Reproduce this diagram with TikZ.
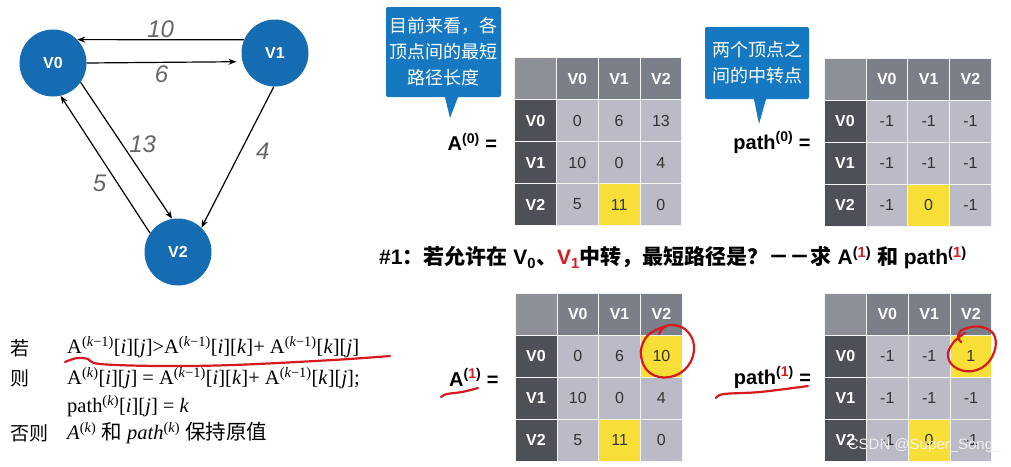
\documentclass[tikz,border=0pt]{standalone}
\usepackage{fontspec}
\setmainfont{Liberation Serif}
\setsansfont{Liberation Sans}
\newfontfamily\cjk{Noto Sans CJK SC}
\usepackage{xcolor}
\usepackage{tikz}
\usetikzlibrary{arrows.meta}
\usetikzlibrary{positioning}
\definecolor{azulno}{RGB}{22,108,178}
\definecolor{azulbalao}{RGB}{22,120,192}
\definecolor{cabeca}{RGB}{123,127,135}
\definecolor{canto}{RGB}{141,144,150}
\definecolor{lateral}{RGB}{77,80,87}
\definecolor{cz}{RGB}{187,186,199}
\definecolor{am}{RGB}{247,223,55}
\definecolor{tinta}{RGB}{214,26,30}
\newcommand{\zh}[1]{{\cjk #1}}
\newcommand{\sob}[1]{\textsuperscript{(#1)}}
\tikzset{
  vertice/.style={circle, fill=azulno, minimum size=67pt, inner sep=0pt, text=white, font=\sffamily\bfseries\fontsize{16}{16}\selectfont},
  seta/.style={-{Stealth[length=8pt,width=6pt]}, line width=1.2pt},
  peso/.style={font=\sffamily\itshape\fontsize{24}{24}\selectfont, text=black!60, inner sep=1pt},
  celula/.style={draw=white!92!gray, line width=0.8pt, minimum width=41.8pt, minimum height=42pt, inner sep=0pt, font=\sffamily\fontsize{16}{16}\selectfont, text=black!80},
  cabec/.style={celula, fill=cabeca, text=white, font=\sffamily\bfseries\fontsize{16}{16}\selectfont},
  balao/.style={fill=azulbalao, rounded corners=2pt, text=white, align=center, inner sep=0pt, font=\cjk\fontsize{18}{26}\selectfont},
  rotulo/.style={font=\sffamily\bfseries\fontsize{20}{20}\selectfont, inner sep=0pt},
  texto/.style={font=\fontsize{20.5}{20.5}\selectfont, inner sep=0pt, anchor=west},
  risco/.style={draw=tinta, line width=2.2pt, line cap=round, line join=round},
}
\newcommand{\matriz}[3]{%
  \begin{scope}[shift={#2}]
    \node[celula, fill=canto] (#1-c) at (0,0) {};
    \foreach \t [count=\c] in {V0,V1,V2} {
      \node[cabec] (#1-h\c) at (\c*41.8,0) {\t};
      \node[cabec, fill=lateral] (#1-l\c) at (0,\c*42) {\t};
    }
    \foreach \linha [count=\r] in {#3} {
      \foreach \v/\cor [count=\c] in \linha
        \node[celula, fill=\cor] (#1-\r\c) at (\c*41.8,\r*42) {\v};
    }
  \end{scope}}

\begin{document}
\begin{tikzpicture}[x=1pt, y=-1pt]
  \useasboundingbox[fill=white] (0,0) rectangle (1011,466);

  % grafo
  \node[vertice] (v0) at (53,63) {V0};
  \node[vertice] (v1) at (275,53) {V1};
  \node[vertice] (v2) at (178,252) {V2};
  \draw[seta] (v1.157) -- node[peso, above] (p10) {10} (v0.44);
  \draw[seta] (v0.east) -- node[peso, below=2pt] (p6) {6} ([xshift=-6pt]v1.195);
  \draw[seta] (v0.-35) -- node[peso, pos=0.45, right=6pt] (p13) {13} (v2.100);
  \draw[seta] (v2.146) -- node[peso, pos=0.36, left=10pt] (p5) {5} (v0.-77);
  \draw[seta] (v1.-92) -- node[peso, pos=0.46, right=14pt] (p4) {4} (v2.46);

  % matrizes
  \matriz{a0}{(535.5,78.5)}{{0/cz,6/cz,13/cz},{10/cz,0/cz,4/cz},{5/cz,11/am,0/cz}}
  \matriz{p0}{(845,79)}{{-1/cz,-1/cz,-1/cz},{-1/cz,-1/cz,-1/cz},{-1/cz,0/am,-1/cz}}
  \matriz{a1}{(536,314)}{{0/cz,6/cz,10/am},{10/cz,0/cz,4/cz},{5/cz,11/am,0/cz}}
  \matriz{p1}{(845.5,314)}{{-1/cz,-1/cz,1/am},{-1/cz,-1/cz,-1/cz},{-1/cz,0/am,-1/cz}}

  \node[rotulo, left=17pt of a0-l1.south west] (la0) {A\sob{0} =};
  \node[rotulo, left=13pt of p0-l1.south west] (lp0) {path\sob{0} =};
  \node[rotulo, left=16pt of a1-l1.south west] (la1) {A\sob{\textcolor{tinta}{1}} =};
  \node[rotulo, left=13pt of p1-l1.south west] (lp1) {path\sob{\textcolor{tinta}{1}} =};

  % baloes
  \node[balao, minimum width=115pt, minimum height=90pt] (b1) at (443.5,52) {目前来看，各\\顶点间的最短\\路径长度};
  \coordinate (t1) at (450,118);
  \fill[azulbalao] ([xshift=1.5pt]b1.south) -- ([xshift=14.5pt]b1.south) -- (t1) -- cycle;
  \node[balao, minimum width=104pt, minimum height=72pt] (b2) at (757,63) {两个顶点之\\间的中转点};
  \coordinate (t2) at (759,124);
  \fill[azulbalao] ([xshift=-3pt]b2.south) -- ([xshift=9pt]b2.south) -- (t2) -- cycle;

  \node[anchor=west, inner sep=0pt, font=\sffamily\bfseries\fontsize{21}{21}\selectfont] (titulo) at (379,258)
    {\#1\zh{：若允许在} V\textsubscript{0}\zh{、}\textcolor{tinta}{V\textsubscript{1}}\zh{中转，最短路径是？－－求} A\sob{\textcolor{tinta}{1}} \zh{和} path\sob{\textcolor{tinta}{1}}};

  % regra
  \node[texto, font=\cjk\fontsize{19}{19}\selectfont] (se) at (10,348) {若};
  \node[texto] (cond) at (67,347) {A\sob{\textit{k}−1}[\textit{i}][\textit{j}]>A\sob{\textit{k}−1}[\textit{i}][\textit{k}]+ A\sob{\textit{k}−1}[\textit{k}][\textit{j}]};
  \node[texto, font=\cjk\fontsize{19}{19}\selectfont] (entao) at (10,378) {则};
  \node[texto] (atrib) at (67,378) {A\sob{\textit{k}}[\textit{i}][\textit{j}] = A\sob{\textit{k}−1}[\textit{i}][\textit{k}]+ A\sob{\textit{k}−1}[\textit{k}][\textit{j}];};
  \node[texto] (atrib2) at (67,406) {path\sob{\textit{k}}[\textit{i}][\textit{j}] = \textit{k}};
  \node[texto, font=\cjk\fontsize{19}{19}\selectfont] (senao) at (10,433) {否则};
  \node[texto] (mantem) at (67,433) {\textit{A}\sob{\textit{k}} \zh{和} \textit{path}\sob{\textit{k}} \zh{保持原值}};

  % marcas a mao
  \draw[risco] plot[smooth, tension=0.6] coordinates {(65,362) (77,358) (88,359) (100,364) (160,366) (233,365) (333,360) (390,356)};
  \draw[risco] plot[smooth, tension=0.7] coordinates {(659,334) (663,328) (672,325) (686,330) (694,346) (688,366) (670,377) (650,373) (641,356) (645,339) (656,330) (667,326)};
  \draw[risco] plot[smooth, tension=0.7] coordinates {(961,342) (958,336) (964,329) (982,327) (995,337) (992,357) (977,370) (958,369) (948,357) (953,343) (965,333)};
  \draw[risco] plot[smooth, tension=0.6] coordinates {(441,397) (447,394) (462,392) (478,388)};
  \draw[risco] plot[smooth, tension=0.6] coordinates {(716,398) (724,394) (760,392) (808,386)};

  \node[anchor=east, font=\sffamily\fontsize{15}{15}\selectfont, text=white!94!black] (marca) at (1005,446) {CSDN @Super\_Song\_};
\end{tikzpicture}
\end{document}
